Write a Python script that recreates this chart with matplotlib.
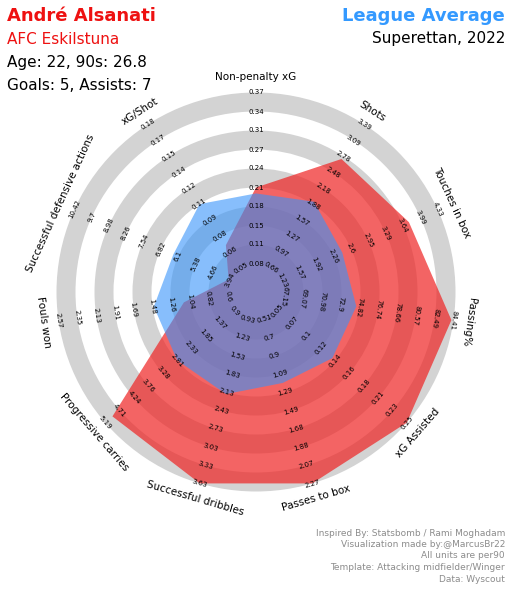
import numpy as np
import matplotlib.pyplot as plt
from matplotlib.patches import Wedge, Polygon

params = ['Non-penalty xG', 'Shots', 'Touches in box', 'Passing%', 'xG Assisted',
          'Passes to box', 'Successful dribbles', 'Progressive carries', 'Fouls won',
          'Successful defensive actions', 'xG/Shot']
low = [0.05, 0.36, 0.88, 65.23, 0.03, 0.31, 0.63, 0.42, 0.38, 3.22, 0.036]
high = [0.37, 3.39, 4.33, 84.41, 0.25, 2.27, 3.63, 5.19, 2.57, 10.42, 0.18]
decimals = [2, 2, 2, 2, 2, 2, 2, 2, 2, 2, 2]
player = [0.21, 2.73, 3.76, 84.2, 0.25, 2.27, 3.63, 4.95, 1.11, 4.0, 0.071]
league = [0.20, 1.92, 2.43, 74.5, 0.136, 1.19, 2.16, 2.8, 1.46, 6.3, 0.108]

cx, cy, unit = 256, 292, 19

fig = plt.figure(figsize=(5.12, 5.9), dpi=100)
ax = fig.add_axes([0, 0, 1, 1])
ax.set_xlim(0, 512)
ax.set_ylim(590, 0)
ax.axis('off')

n = len(params)
theta = np.arange(n) * 2 * np.pi / n


def to_xy(u, t):
    return cx + u * unit * np.sin(t), cy - u * unit * np.cos(t)


def radius(v, i):
    u = 0.5 + 10 * (v - low[i]) / (high[i] - low[i])
    return min(u, 10.5)


for r0 in [1.5, 3.5, 5.5, 7.5, 9.5]:
    ax.add_patch(Wedge((cx, cy), (r0 + 1) * unit, 0, 360, width=unit,
                       color='#d3d3d3', lw=0, zorder=1))

for vals, col in [(player, '#ef2222'), (league, '#3794fa')]:
    pts = [to_xy(radius(v, i), theta[i]) for i, v in enumerate(vals)]
    ax.add_patch(Polygon(pts, closed=True, fc=col, alpha=0.7 if col == '#ef2222' else 0.6,
                         lw=0, zorder=2))


def rot(t):
    d = np.degrees(t)
    r = -d
    if 100 < d < 265:
        r = 180 - d
    return r


for i, p in enumerate(params):
    t = theta[i]
    step = (high[i] - low[i]) / 10
    for k in range(1, 11):
        x, y = to_xy(k + 0.5, t)
        ax.text(x, y, f'{round(low[i] + k * step, decimals[i]):g}', fontsize=5,
                rotation=rot(t), ha='center', va='center', rotation_mode='anchor', zorder=3)
    x, y = to_xy(11.3, t)
    ax.text(x, y, p, fontsize=7.5, rotation=rot(t), ha='center', va='center',
            rotation_mode='anchor', zorder=3)

ax.text(7, 16, 'André Alsanati', fontsize=13, color='#ee1111', fontweight='bold', va='center')
ax.text(7, 39, 'AFC Eskilstuna', fontsize=11, color='#ee1111', va='center')
ax.text(7, 62, 'Age: 22, 90s: 26.8', fontsize=11, va='center')
ax.text(7, 85, 'Goals: 5, Assists: 7', fontsize=11, va='center')
ax.text(505, 16, 'League Average', fontsize=13, color='#3399ff', fontweight='bold',
        va='center', ha='right')
ax.text(505, 39, 'Superettan, 2022', fontsize=11, va='center', ha='right')

credits = ['Inspired By: Statsbomb / Rami Moghadam', 'Visualization made by:@MarcusBr22',
           'All units are per90', 'Template: Attacking midfielder/Winger', 'Data: Wyscout']
for j, c in enumerate(credits):
    ax.text(505, 533 + j * 11.5, c, fontsize=6.5, color='#8c8c8c', ha='right', va='center')

fig.savefig('out.png', dpi=100)
